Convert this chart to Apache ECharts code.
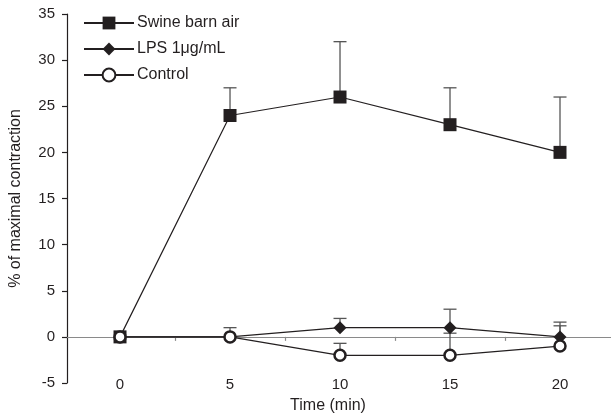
<!DOCTYPE html>
<html>
<head>
<meta charset="utf-8">
<script src="https://cdn.jsdelivr.net/npm/echarts@6/dist/echarts.min.js"></script>
<style>
  html, body { margin: 0; padding: 0; background: #fff; }
  #chart { width: 611px; height: 416px; }
</style>
</head>
<body>
<div id="chart"></div>
<script>
// Time points (min)
const times = [0, 5, 10, 15, 20];
const timeTicks = [0, 5, 10, 15, 20];
const yTicks = [-5, 0, 5, 10, 15, 20, 25, 30, 35];

// Mean response, % of maximal contraction
const swine = [0, 24, 26, 23, 20];
const lps = [0, 0, 1, 1, 0];
const control = [0, 0, -2, -2, -1];

// Upper end of the error bars (null = none drawn)
const swineUpper = [null, 27, 32, 27, 26];
const lpsUpper = [null, 1, 2, 3, 1.6];
const controlUpper = [null, null, -0.7, 0.4, 1.2];

const FONT = 'Liberation Sans, Arial, sans-serif';
const INK = '#231f20';

function pairs(ys) { return times.map((t, i) => [t, ys[i]]); }
function bars(ys, ups) {
  const out = [];
  times.forEach((t, i) => { if (ups[i] !== null) out.push([t, ys[i], ups[i]]); });
  return out;
}
const errData = [].concat(bars(swine, swineUpper), bars(lps, lpsUpper), bars(control, controlUpper));

function renderErr(params, api) {
  const x = api.value(0), lo = api.value(1), hi = api.value(2);
  const p0 = api.coord([x, lo]);
  const p1 = api.coord([x, hi]);
  const st = { stroke: '#555', lineWidth: 1.3 };
  return {
    type: 'group',
    children: [
      { type: 'line', shape: { x1: p0[0], y1: p0[1], x2: p1[0], y2: p1[1] }, style: st },
      { type: 'line', shape: { x1: p1[0] - 6.5, y1: p1[1], x2: p1[0] + 6.5, y2: p1[1] }, style: st }
    ]
  };
}

const chart = echarts.init(document.getElementById('chart'), null, { renderer: 'canvas' });
chart.setOption({
  animation: false,
  textStyle: { fontFamily: FONT, color: INK },
  grid: { left: 67, top: 14, width: 548, height: 369, containLabel: false, outerBoundsMode: 'none' },
  legend: {
    orient: 'vertical',
    left: 78, top: 10,
    itemWidth: 50, itemHeight: 16, itemGap: 10,
    textStyle: { fontFamily: FONT, fontSize: 16, color: INK, padding: [0, 0, 0, -2] },
    data: ['Swine barn air', 'LPS 1μg/mL', 'Control']
  },
  xAxis: [
    {
      // bottom axis: carries the tick labels and the title
      type: 'value', min: -2.41, max: 22.5,
      position: 'bottom',
      axisLine: { show: false, onZero: false },
      axisTick: { show: false },
      splitLine: { show: false },
      axisLabel: {
        customValues: timeTicks,
        margin: 2,
        verticalAlign: 'middle',
        fontSize: 15, color: INK, fontFamily: FONT
      },
      name: 'Time (min)',
      nameLocation: 'middle',
      nameGap: 14,
      nameTextStyle: { fontSize: 16, color: INK, fontFamily: FONT, padding: [0, 26, 0, 0] }
    },
    {
      // baseline drawn through zero, ticks between time points
      type: 'value', min: -2.41, max: 22.5,
      position: 'bottom',
      axisLine: { show: true, onZero: true, lineStyle: { color: '#8a8a8a', width: 1.2 } },
      axisTick: { show: true, customValues: [2.5, 7.5, 12.5, 17.5], length: 4, lineStyle: { color: '#8a8a8a', width: 1.2 } },
      axisLabel: { show: false },
      splitLine: { show: false }
    }
  ],
  yAxis: {
    type: 'value', min: -5, max: 35, interval: 5,
    axisLine: { show: true, onZero: false, lineStyle: { color: INK, width: 1.2 } },
    axisTick: { show: true, length: 5, lineStyle: { color: INK, width: 1.2 } },
    splitLine: { show: false },
    axisLabel: { fontSize: 15, color: INK, fontFamily: FONT, margin: 12,
      formatter: v => yTicks.includes(v) ? String(v) : '' },
    name: '% of maximal contraction',
    nameLocation: 'middle',
    nameGap: 43,
    nameTextStyle: { fontSize: 16, color: INK, fontFamily: FONT }
  },
  series: [
    {
      type: 'custom', name: 'err', xAxisIndex: 1, z: 1,
      renderItem: renderErr, data: errData, silent: true
    },
    {
      name: 'Swine barn air', type: 'line', xAxisIndex: 1, z: 3,
      data: pairs(swine),
      symbol: 'rect', symbolSize: 13,
      lineStyle: { color: INK, width: 1.2 },
      itemStyle: { color: INK, borderColor: INK, borderWidth: 0 }
    },
    {
      name: 'LPS 1μg/mL', type: 'line', xAxisIndex: 1, z: 4,
      data: pairs(lps),
      symbol: 'diamond', symbolSize: 13,
      lineStyle: { color: INK, width: 1.2 },
      itemStyle: { color: INK, borderColor: INK, borderWidth: 0 }
    },
    {
      name: 'Control', type: 'line', xAxisIndex: 1, z: 5,
      data: pairs(control),
      symbol: 'circle', symbolSize: 11, showAllSymbol: true,
      lineStyle: { color: INK, width: 1.2 },
      itemStyle: { color: '#ffffff', borderColor: INK, borderWidth: 2.5 }
    }
  ]
});
</script>
</body>
</html>
